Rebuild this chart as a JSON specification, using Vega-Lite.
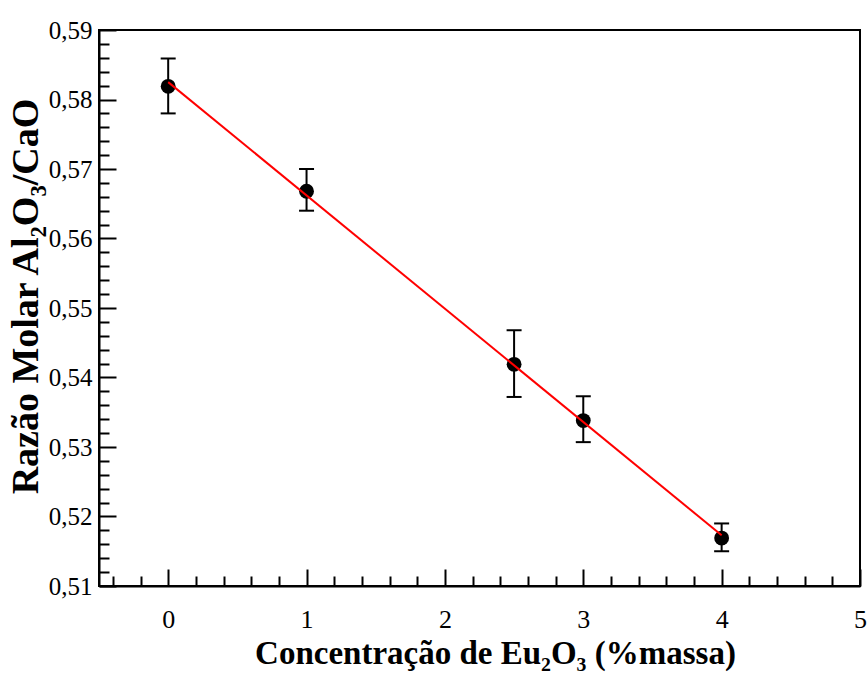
{
  "$schema": "https://vega.github.io/schema/vega-lite/v6.json",
  "width": 761,
  "height": 556,
  "autosize": {"type": "none"},
  "padding": {"left": 99, "top": 30, "right": 8, "bottom": 89},
  "background": "white",
  "datasets": {
    "medidas": [
      {"eu2o3": 0, "razao": 0.5819, "erro_sup": 0.0040, "erro_inf": -0.0039},
      {"eu2o3": 1, "razao": 0.5668, "erro_sup": 0.0032, "erro_inf": -0.0028},
      {"eu2o3": 2.5, "razao": 0.5419, "erro_sup": 0.0049, "erro_inf": -0.0047},
      {"eu2o3": 3, "razao": 0.5338, "erro_sup": 0.0035, "erro_inf": -0.0031},
      {"eu2o3": 4, "razao": 0.5169, "erro_sup": 0.0021, "erro_inf": -0.0019}
    ],
    "ajuste": [
      {"eu2o3": 0, "razao": 0.5825},
      {"eu2o3": 4, "razao": 0.5173}
    ]
  },
  "encoding": {
    "x": {
      "field": "eu2o3",
      "type": "quantitative",
      "scale": {"domain": [-0.5, 5], "nice": false, "zero": false},
      "axis": {
        "title": "Concentração de Eu₂O₃ (%massa)",
        "titleFontSize": 33,
        "titleBaseline": "alphabetic",
        "titleX": 396,
        "titleY": 77,
        "values": [-0.4, -0.2, 0, 0.2, 0.4, 0.6, 0.8, 1, 1.2, 1.4, 1.6, 1.8, 2, 2.2, 2.4, 2.6, 2.8, 3, 3.2, 3.4, 3.6, 3.8, 4, 4.2, 4.4, 4.6, 4.8, 5],
        "labelExpr": "abs(datum.value - round(datum.value)) < 1e-6 ? format(datum.value, 'd') : ''",
        "tickSize": {"condition": {"test": "abs(datum.value - round(datum.value)) < 1e-6", "value": -17}, "value": -10},
        "labelFontSize": 26,
        "labelPadding": 37
      }
    },
    "y": {
      "field": "razao",
      "type": "quantitative",
      "scale": {"domain": [0.51, 0.59], "nice": false, "zero": false},
      "axis": {
        "title": "Razão Molar Al₂O₃/CaO",
        "titleFontSize": 38,
        "titleBaseline": "alphabetic",
        "titleX": -62,
        "titleY": 266,
        "values": [0.51, 0.512, 0.514, 0.516, 0.518, 0.52, 0.522, 0.524, 0.526, 0.528, 0.53, 0.532, 0.534, 0.536, 0.538, 0.54, 0.542, 0.544, 0.546, 0.548, 0.55, 0.552, 0.554, 0.556, 0.558, 0.56, 0.562, 0.564, 0.566, 0.568, 0.57, 0.572, 0.574, 0.576, 0.578, 0.58, 0.582, 0.584, 0.586, 0.588, 0.59],
        "labelExpr": "abs(datum.value * 100 - round(datum.value * 100)) < 1e-6 ? replace(format(datum.value, '.2f'), '.', ',') : ''",
        "tickSize": {"condition": {"test": "abs(datum.value * 100 - round(datum.value * 100)) < 1e-6", "value": -17}, "value": -10},
        "labelFontSize": 25,
        "labelPadding": 24
      }
    }
  },
  "layer": [
    {
      "data": {"name": "medidas"},
      "mark": {
        "type": "errorbar",
        "ticks": {"size": 15, "thickness": 2, "color": "black", "opacity": 1},
        "rule": {"strokeWidth": 2, "color": "black", "opacity": 1}
      },
      "encoding": {
        "yError": {"field": "erro_sup"},
        "yError2": {"field": "erro_inf"}
      }
    },
    {
      "data": {"name": "medidas"},
      "mark": {"type": "circle", "size": 220, "color": "black", "opacity": 1}
    },
    {
      "data": {"name": "ajuste"},
      "mark": {"type": "line", "color": "#ff0000", "strokeWidth": 2}
    }
  ],
  "config": {
    "view": {"stroke": "black", "strokeWidth": 2},
    "axis": {
      "grid": false,
      "domainColor": "black",
      "domainWidth": 2,
      "tickColor": "black",
      "tickWidth": 2,
      "labelFont": "Liberation Serif",
      "labelColor": "black",
      "labelOverlap": false,
      "labelFlush": false,
      "labelBound": false,
      "titleFont": "Liberation Serif",
      "titleFontWeight": "bold",
      "titleColor": "black"
    }
  }
}
